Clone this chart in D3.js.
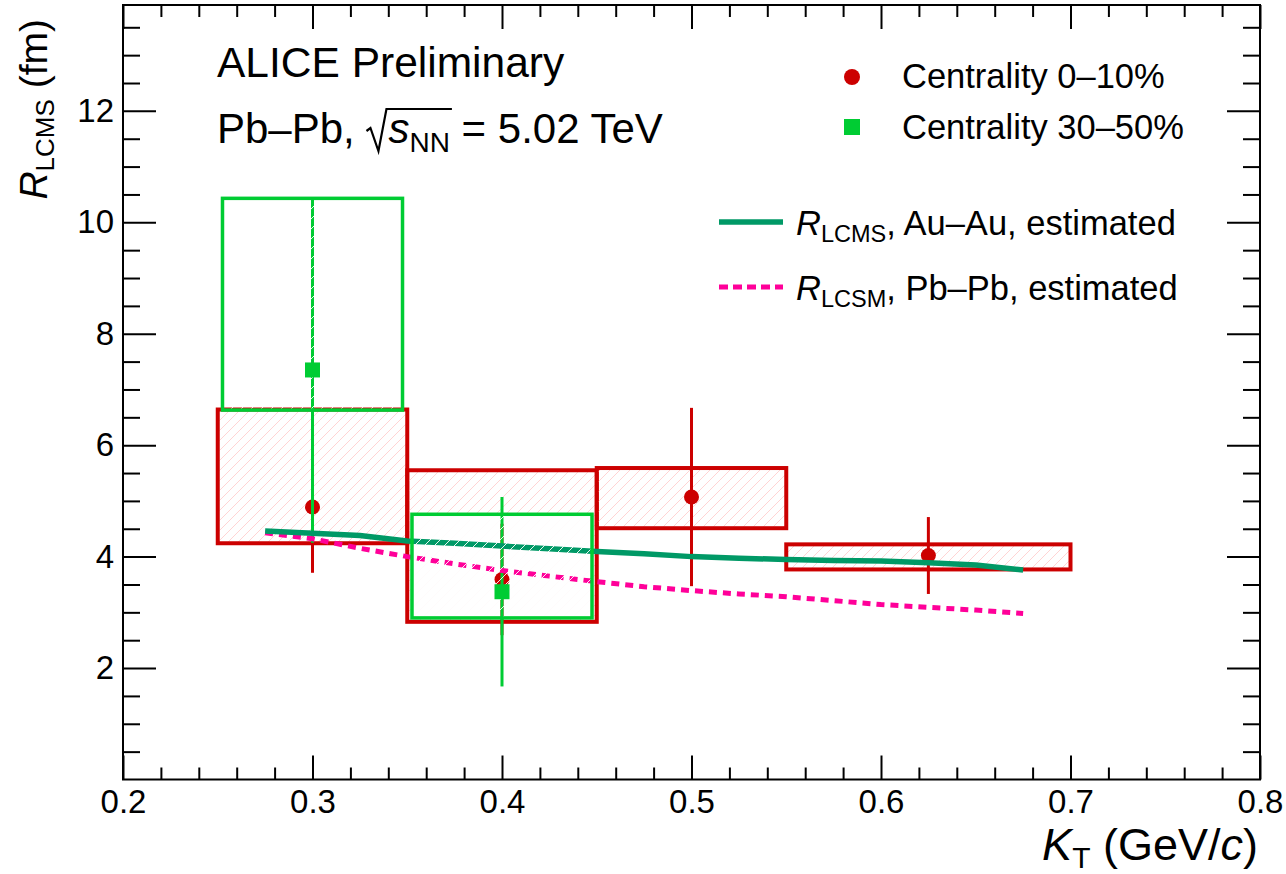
<!DOCTYPE html>
<html>
<head>
<meta charset="utf-8">
<script src="https://cdn.jsdelivr.net/npm/d3@7"></script>
<style>
  body { margin: 0; background: #fff; }
  text { font-family: "Liberation Sans", Arial, Helvetica, sans-serif; fill: #000; }
</style>
</head>
<body>
<div class="container"></div>
<script>
// centrality 0-10%
const ktC1 = [0.3, 0.4, 0.5, 0.625];
const rC1 = [4.89, 3.59, 5.07, 4.02];
const statC1 = [1.18, 1.0, 1.6, 0.69];
const sysLoC1 = [4.24, 2.83, 4.51, 3.77];
const sysHiC1 = [6.64, 5.55, 5.59, 4.22];
const binLoC1 = [0.25, 0.35, 0.45, 0.55];
const binHiC1 = [0.35, 0.45, 0.55, 0.70];

// centrality 30-50%
const ktC2 = [0.3, 0.4];
const rC2 = [7.35, 3.37];
const statC2 = [3.1, 1.7];
const sysLoC2 = [6.63, 2.90];
const sysHiC2 = [10.43, 4.76];
const binLoC2 = [0.2525, 0.3525];
const binHiC2 = [0.3475, 0.4475];

// estimates
const ktModel = [0.275, 0.3, 0.325, 0.35, 0.375, 0.4, 0.425, 0.45, 0.475, 0.5, 0.525, 0.55, 0.575, 0.6, 0.625, 0.65, 0.675];
const rAuAu = [4.46, 4.42, 4.38, 4.28, 4.24, 4.19, 4.14, 4.09, 4.05, 4.00, 3.97, 3.95, 3.93, 3.92, 3.89, 3.85, 3.76];
const rPbPb = [4.43, 4.32, 4.15, 4.00, 3.87, 3.75, 3.65, 3.55, 3.46, 3.39, 3.33, 3.28, 3.21, 3.14, 3.09, 3.04, 2.98];

const xTicks = [0.2, 0.3, 0.4, 0.5, 0.6, 0.7, 0.8];
const yTicks = [2, 4, 6, 8, 10, 12];

const red = "#cc0000", green = "#00cc33", teal = "#009966", pink = "#ff0099";

const width = 1286, height = 874;
const plot = {left: 123, right: 1260, top: 5, bottom: 779.5};

const svg = d3.select(".container")
              .append("svg")
              .attr("width", width)
              .attr("height", height);

const xScale = d3.scaleLinear().domain([0.2, 0.8]).range([plot.left, plot.right]);
const yScale = d3.scaleLinear().domain([0, 13.9]).range([plot.bottom, plot.top]);

// hatch patterns (the white one hides the pink one where boxes overlap)
const defs = svg.append("defs");
function hatch(id, color, w) {
    defs.append("pattern")
        .attr("id", id)
        .attr("patternUnits", "userSpaceOnUse")
        .attr("width", 10).attr("height", 10)
        .append("path")
        .attr("d", "M0,10 L10,0 M-2,2 L2,-2 M8,12 L12,8")
        .attr("stroke", color)
        .attr("stroke-width", w);
}
hatch("hatchRed", "#ffcfcf", 0.9);
hatch("hatchWhite", "#ffffff", 0.9);

const xMinor = d3.range(11, 40).map(i => i * 0.02).filter(v => Math.abs(v * 10 - Math.round(v * 10)) > 1e-6);
const yMinor = d3.range(1, 28).map(i => i * 0.5).filter(v => v % 2 !== 0);

function tickAxis(axis, transform) {
    const g = svg.append("g").attr("transform", transform).call(axis);
    g.select(".domain").remove();
    g.selectAll("line").attr("stroke", "#000").attr("stroke-width", 2);
    g.selectAll("text").style("font-size", "33px").attr("fill", "#000");
    return g;
}

// bottom
tickAxis(d3.axisBottom(xScale).tickValues(xMinor).tickSize(-12).tickFormat(""), `translate(0,${plot.bottom})`);
tickAxis(d3.axisBottom(xScale).tickValues(xTicks).tickSize(-24).tickPadding(10).tickFormat(d3.format(".1f")), `translate(0,${plot.bottom})`);
// top
tickAxis(d3.axisTop(xScale).tickValues(xMinor).tickSize(-12).tickFormat(""), `translate(0,${plot.top})`);
tickAxis(d3.axisTop(xScale).tickValues(xTicks).tickSize(-24).tickFormat(""), `translate(0,${plot.top})`);
// left
tickAxis(d3.axisLeft(yScale).tickValues(yMinor).tickSize(-17).tickFormat(""), `translate(${plot.left},0)`);
tickAxis(d3.axisLeft(yScale).tickValues(yTicks).tickSize(-33).tickPadding(9).tickFormat(d3.format("d")), `translate(${plot.left},0)`);
// right
tickAxis(d3.axisRight(yScale).tickValues(yMinor).tickSize(-17).tickFormat(""), `translate(${plot.right},0)`);
tickAxis(d3.axisRight(yScale).tickValues(yTicks).tickSize(-33).tickFormat(""), `translate(${plot.right},0)`);

const c1 = ktC1.map((k, i) => ({k, r: rC1[i], e: statC1[i], lo: sysLoC1[i], hi: sysHiC1[i], x0: binLoC1[i], x1: binHiC1[i]}));
const c2 = ktC2.map((k, i) => ({k, r: rC2[i], e: statC2[i], lo: sysLoC2[i], hi: sysHiC2[i], x0: binLoC2[i], x1: binHiC2[i]}));

// red systematic boxes
svg.append("g").selectAll("rect").data(c1).join("rect")
   .attr("x", d => xScale(d.x0))
   .attr("y", d => yScale(d.hi))
   .attr("width", d => xScale(d.x1) - xScale(d.x0))
   .attr("height", d => yScale(d.lo) - yScale(d.hi))
   .attr("fill", "url(#hatchRed)")
   .attr("stroke", red)
   .attr("stroke-width", 4);

// red stat errors + markers
svg.append("g").selectAll("line").data(c1).join("line")
   .attr("x1", d => xScale(d.k)).attr("x2", d => xScale(d.k))
   .attr("y1", d => yScale(d.r - d.e)).attr("y2", d => yScale(d.r + d.e))
   .attr("stroke", red).attr("stroke-width", 3);
svg.append("g").selectAll("circle").data(c1).join("circle")
   .attr("cx", d => xScale(d.k)).attr("cy", d => yScale(d.r))
   .attr("r", 7.5).attr("fill", red);

// green stat errors
svg.append("g").selectAll("line").data(c2).join("line")
   .attr("x1", d => xScale(d.k)).attr("x2", d => xScale(d.k))
   .attr("y1", d => yScale(d.r - d.e)).attr("y2", d => yScale(d.r + d.e))
   .attr("stroke", green).attr("stroke-width", 3);

// estimated curves
const model = ktModel.map((k, i) => ({k, au: rAuAu[i], pb: rPbPb[i]}));
svg.append("path").datum(model)
   .attr("fill", "none").attr("stroke", pink).attr("stroke-width", 5)
   .attr("stroke-dasharray", "8,6")
   .attr("d", d3.line().x(d => xScale(d.k)).y(d => yScale(d.pb)));
svg.append("path").datum(model)
   .attr("fill", "none").attr("stroke", teal).attr("stroke-width", 5.5)
   .attr("d", d3.line().x(d => xScale(d.k)).y(d => yScale(d.au)));

// green systematic boxes
svg.append("g").selectAll("rect").data(c2).join("rect")
   .attr("x", d => xScale(d.x0))
   .attr("y", d => yScale(d.hi))
   .attr("width", d => xScale(d.x1) - xScale(d.x0))
   .attr("height", d => yScale(d.lo) - yScale(d.hi))
   .attr("fill", "url(#hatchWhite)")
   .attr("stroke", green)
   .attr("stroke-width", 3.5);

svg.append("g").selectAll("rect").data(c2).join("rect")
   .attr("x", d => xScale(d.k) - 7.5).attr("y", d => yScale(d.r) - 7.5)
   .attr("width", 15).attr("height", 15).attr("fill", green);

// frame
svg.append("rect")
   .attr("x", plot.left).attr("y", plot.top)
   .attr("width", plot.right - plot.left).attr("height", plot.bottom - plot.top)
   .attr("fill", "none").attr("stroke", "#000").attr("stroke-width", 2);

// axis titles
const xt = svg.append("text")
   .attr("x", 1258).attr("y", 860)
   .attr("text-anchor", "end")
   .style("font-size", "45px");
xt.append("tspan").attr("font-style", "italic").text("K");
xt.append("tspan").attr("dy", 8).style("font-size", "30px").text("T");
xt.append("tspan").attr("dy", -8).text(" (GeV/");
xt.append("tspan").attr("font-style", "italic").text("c");
xt.append("tspan").text(")");

const yt = svg.append("text")
   .attr("transform", "rotate(-90)")
   .attr("x", -19).attr("y", 47)
   .attr("text-anchor", "end")
   .style("font-size", "39px");
yt.append("tspan").attr("font-style", "italic").text("R");
yt.append("tspan").attr("dy", 7).style("font-size", "26px").text("LCMS");
yt.append("tspan").attr("dy", -7).text(" (fm)");

// header
svg.append("text").attr("x", 217).attr("y", 77)
   .style("font-size", "42.5px").text("ALICE Preliminary");

const sub = svg.append("text").attr("x", 217).attr("y", 143).style("font-size", "42px");
sub.append("tspan").text("Pb–Pb, ");
sub.append("tspan").attr("dx", 22).attr("font-style", "italic").text("s");
sub.append("tspan").attr("dy", 9).style("font-size", "28px").text("NN");
sub.append("tspan").attr("dy", -9).text(" = 5.02 TeV");
const sNode = sub.node();
const sx = sNode.getStartPositionOfChar(7).x;
const nnEnd = sNode.getEndPositionOfChar(9).x;
svg.append("path")
   .attr("d", `M${sx - 22},${143 - 12} L${sx - 18},${143 - 15} L${sx - 10},${143 + 8} L${sx - 2},${143 - 34} L${nnEnd + 2},${143 - 34}`)
   .attr("fill", "none").attr("stroke", "#000").attr("stroke-width", 2.2);

// legend
svg.append("circle").attr("cx", 852).attr("cy", 77).attr("r", 8).attr("fill", red);
svg.append("rect").attr("x", 844).attr("y", 119).attr("width", 16).attr("height", 16).attr("fill", green);
svg.append("text").attr("x", 902).attr("y", 88).style("font-size", "34.5px").text("Centrality 0–10%");
svg.append("text").attr("x", 902).attr("y", 139).style("font-size", "34.5px").text("Centrality 30–50%");

svg.append("line").attr("x1", 719).attr("x2", 783).attr("y1", 222).attr("y2", 222)
   .attr("stroke", teal).attr("stroke-width", 5.5);
svg.append("line").attr("x1", 719).attr("x2", 783).attr("y1", 287).attr("y2", 287)
   .attr("stroke", pink).attr("stroke-width", 5).attr("stroke-dasharray", "9,5");

function legendText(y, subTxt, rest) {
    const t = svg.append("text").attr("x", 796).attr("y", y).style("font-size", "34.5px");
    t.append("tspan").attr("font-style", "italic").text("R");
    t.append("tspan").attr("dy", 7).style("font-size", "23.5px").text(subTxt);
    t.append("tspan").attr("dy", -7).text(rest);
}
legendText(235, "LCMS", ", Au–Au, estimated");
legendText(300, "LCSM", ", Pb–Pb, estimated");
</script>
</body>
</html>
